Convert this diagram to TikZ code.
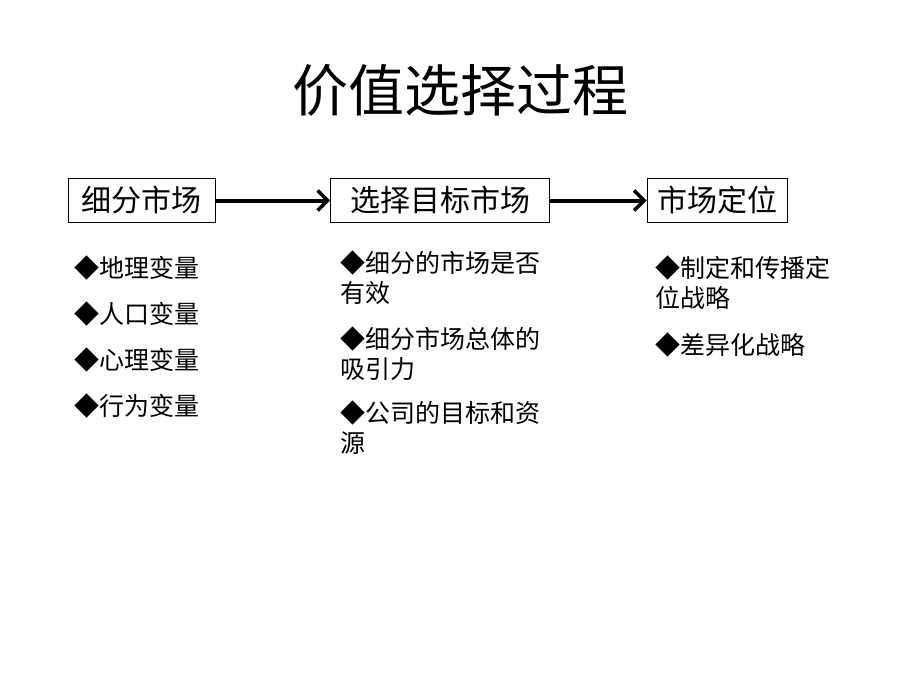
\documentclass[tikz,border=0pt]{standalone}
\usepackage{fontspec}
\setmainfont{Noto Sans CJK SC}
\usetikzlibrary{arrows.meta}
\begin{document}
\begin{tikzpicture}[x=1pt,y=-1pt,
  box/.style={draw,line width=1pt,minimum height=44pt,inner sep=0pt,font=\fontsize{30}{32}\selectfont},
  item/.style={anchor=west,align=left,inner sep=0pt,font=\fontsize{25}{30}\selectfont},
  flow/.style={line width=4pt,-{Straight Barb[length=10pt,width=20pt,line width=3.5pt]}}]
\useasboundingbox (0,0) rectangle (920,690);
\node[font=\fontsize{56}{60}\selectfont] (title) at (460,90) {价值选择过程};
\node[box,minimum width=147pt] (b1) at (141.5,200.5) {细分市场};
\node[box,minimum width=219pt] (b2) at (440,200.5) {选择目标市场};
\node[box,minimum width=140pt] (b3) at (717,200.5) {市场定位};
\draw[flow] (b1) -- (b2);
\draw[flow] (b2) -- (b3);
\node[item] (a1) at (74,268) {◆地理变量};
\node[item] (a2) at (74,314) {◆人口变量};
\node[item] (a3) at (74,360) {◆心理变量};
\node[item] (a4) at (74,406) {◆行为变量};
\node[item] (c1) at (340,278) {◆细分的市场是否\\有效};
\node[item] (c2) at (340,354) {◆细分市场总体的\\吸引力};
\node[item] (c3) at (340,428) {◆公司的目标和资\\源};
\node[item] (d1) at (655,283) {◆制定和传播定\\位战略};
\node[item] (d2) at (655,345) {◆差异化战略};
\end{tikzpicture}
\end{document}
